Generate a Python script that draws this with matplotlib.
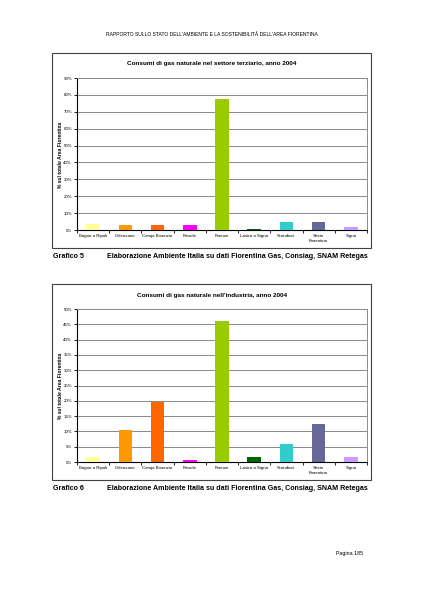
import matplotlib
matplotlib.use("Agg")
import matplotlib.pyplot as plt
from matplotlib.patches import Rectangle
from matplotlib.ticker import MultipleLocator, FuncFormatter, FixedLocator

plt.rcParams['font.family'] = ['Liberation Sans', 'DejaVu Sans']

# data
comuni = ["Bagno a Ripoli", "Calenzano", "Campi Bisenzio", "Fiesole", "Firenze",
          "Lastra a Signa", "Scandicci", "Sesto\nFiorentino", "Signa"]
colori = ["#FFFF99", "#FF9900", "#FF6600", "#FF00FF", "#99CC00",
          "#006600", "#33CCCC", "#666699", "#CC99FF"]
terziario = [3.7, 3.0, 3.0, 3.0, 77.7, 0.8, 4.7, 4.7, 2.0]
industria = [1.5, 10.3, 19.5, 0.6, 46.0, 1.7, 5.8, 12.5, 1.5]

W, H = 424, 599
fig = plt.figure(figsize=(W / 100, H / 100), dpi=100)


def fx(x):
    return x / W


def fy(y):
    return 1 - y / H


def frame(x0, y0, x1, y1):
    fig.patches.append(Rectangle((fx(x0), fy(y1)), fx(x1 - x0), (y1 - y0) / H,
                                 transform=fig.transFigure, fill=False,
                                 edgecolor="#404040", lw=0.8))


def chart(vals, top, step, box, title, ylab_y, caption_y, n):
    x0, y0, x1, y1 = box
    frame(52, y0 - 25, 371, y1 + 18)
    fig.text(fx(212), fy(y0 - 14), title, ha="center", va="center",
             fontsize=4.6, fontweight="bold")
    ax = fig.add_axes([fx(x0), fy(y1), fx(x1 - x0), (y1 - y0) / H])
    ax.bar(range(len(vals)), vals, width=0.42, color=colori, zorder=3)
    ax.set_xlim(-0.5, len(vals) - 0.5)
    ax.set_ylim(0, top)
    ax.yaxis.set_major_locator(MultipleLocator(step))
    ax.yaxis.set_major_formatter(FuncFormatter(lambda v, p: "%d%%" % v))
    ax.grid(axis="y", color="#8a8a8a", lw=0.7, zorder=0)
    ax.set_xticks(range(len(vals)))
    ax.set_xticklabels(comuni, fontsize=3.2, linespacing=1.4)
    ax.xaxis.set_minor_locator(FixedLocator([i - 0.5 for i in range(len(vals) + 1)]))
    ax.tick_params(axis="x", which="major", length=0, pad=3)
    ax.tick_params(axis="x", which="minor", length=2, width=0.6)
    ax.tick_params(axis="y", labelsize=3.2, length=2, width=0.6, pad=1.5)
    for s in ["top", "right"]:
        ax.spines[s].set_color("#8a8a8a")
        ax.spines[s].set_linewidth(0.7)
    for s in ["left", "bottom"]:
        ax.spines[s].set_linewidth(0.8)
    fig.text(fx(61), fy(ylab_y), "% sul totale Area Fiorentina", rotation=90,
             ha="center", va="center", fontsize=3.6, fontweight="bold")
    fig.text(fx(53), fy(caption_y), "Grafico %d" % n, ha="left", va="center",
             fontsize=5.1, fontweight="bold")
    fig.text(fx(107), fy(caption_y),
             "Elaborazione Ambiente Italia su dati Fiorentina Gas, Consiag, SNAM Retegas",
             ha="left", va="center", fontsize=5.1, fontweight="bold")


fig.text(fx(212), fy(34),
         "RAPPORTO SULLO STATO DELL'AMBIENTE E LA SOSTENIBILITÀ DELL'AREA FIORENTINA",
         ha="center", va="center", fontsize=3.6)

chart(terziario, 90, 10, (77, 78, 367, 230),
      "Consumi di gas naturale nel settore terziario, anno 2004", 155, 256, 5)
chart(industria, 50, 5, (77, 309, 367, 462),
      "Consumi di gas naturale nell'industria, anno 2004", 386, 488, 6)

fig.text(fx(363), fy(554), "Pagina 185", ha="right", va="center", fontsize=3.8)

fig.savefig("out.png", dpi=100)
